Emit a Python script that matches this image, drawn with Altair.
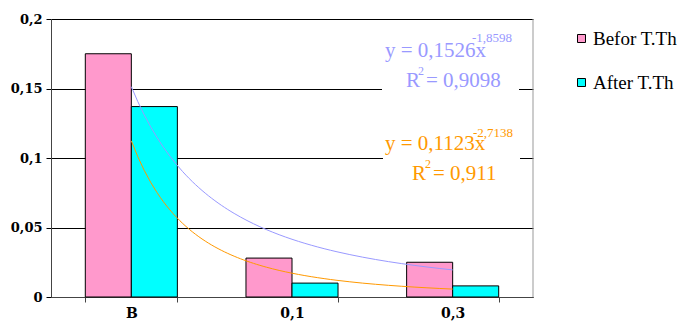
import altair as alt
import pandas as pd

categories = ["B", "0,1", "0,3"]
positions = [1, 2, 3]
series_names = ["Befor T.Th", "After T.Th"]
befor = [0.175, 0.028, 0.025]
after = [0.137, 0.010, 0.008]
y_ticks = [0, 0.05, 0.1, 0.15, 0.2]
eq_befor = ["y = 0,1526x", "-1,8598", "R", "2", "= 0,9098"]
eq_after = ["y = 0,1123x", "-2,7138", "R", "2", "= 0,911"]

rows = []
for c, p, b, a in zip(categories, positions, befor, after):
    rows.append({"cat": c, "pos": p, "series": series_names[0], "value": b})
    rows.append({"cat": c, "pos": p, "series": series_names[1], "value": a})
df = pd.DataFrame(rows)

FONT = "'Liberation Serif', 'Times New Roman', Times, serif"
BFONT = "'DejaVu Serif', serif"
W, H = 482, 278
LAV = "#9999FF"
ORA = "#FF9900"

yscale = alt.Scale(domain=[0, 0.2], nice=False, zero=True)

bars = alt.Chart(df).mark_bar(stroke="black", strokeWidth=1).encode(
    x=alt.X("cat:N", sort=categories, title=None,
            scale=alt.Scale(paddingInner=0.427, paddingOuter=0.2135),
            axis=alt.Axis(labelAngle=0, labelFont=BFONT, labelFontWeight="bold",
                          labelFontSize=14, labelColor="black", tickBand="extent",
                          tickColor="#444", domainColor="#444", tickSize=5,
                          labelBaseline="alphabetic", labelPadding=15, grid=False)),
    xOffset=alt.XOffset("series:N", sort=series_names,
                        scale=alt.Scale(paddingInner=0, paddingOuter=0)),
    y=alt.Y("value:Q", scale=yscale, title=None,
            axis=alt.Axis(values=y_ticks, labelExpr="replace(datum.value + '', '.', ',')",
                          grid=True, gridColor="black", gridWidth=1, gridOpacity=1,
                          labelFont=BFONT, labelFontWeight="bold", labelFontSize=13,
                          labelColor="black", tickColor="black", tickSize=5,
                          labelPadding=4, domainColor="#444")),
    color=alt.Color("series:N", sort=series_names,
                    scale=alt.Scale(domain=series_names, range=["#FF99CC", "#00FFFF"]),
                    legend=alt.Legend(title=None, orient="none", legendX=521, legendY=10,
                                      symbolType="square", symbolSize=64,
                                      symbolStrokeColor="black", symbolStrokeWidth=1,
                                      labelFont=FONT, labelFontSize=19, labelColor="black",
                                      rowPadding=24, labelOffset=2, padding=0)),
)

curves = alt.Chart(df).transform_regression(
    "pos", "value", method="pow", groupby=["series"]
).mark_line(strokeWidth=1).encode(
    x=alt.X("pos:Q", scale=alt.Scale(domain=[0.5, 3.5], nice=False, zero=False), axis=None),
    y=alt.Y("value:Q", scale=yscale),
    color=alt.Color("series:N", scale=alt.Scale(domain=series_names, range=[LAV, ORA]),
                    legend=None),
)


def box(x1, x2, y1, y2):
    return alt.Chart(pd.DataFrame({"t": [0]})).mark_rect(color="white").encode(
        x=alt.value(x1), x2=alt.value(x2), y=alt.value(y1), y2=alt.value(y2))


def label(text, x, y, size, color, align="left"):
    return alt.Chart(pd.DataFrame({"t": [text]})).mark_text(
        font=FONT, fontSize=size, color=color, align=align, baseline="middle"
    ).encode(text="t:N", x=alt.value(x), y=alt.value(y))


border = alt.Chart(pd.DataFrame({"t": [0]})).mark_rule(color="#999", strokeWidth=1).encode(
    x=alt.value(W), y=alt.value(0), y2=alt.value(H))

annots = [
    box(331, 468, 11, 77),
    box(332, 469, 106, 166),
    label(eq_befor[0], 334, 32, 21, LAV),
    label(eq_befor[1], 421, 19, 13, LAV),
    label(eq_befor[2], 355, 62, 21, LAV),
    label(eq_befor[3], 367, 52, 12, LAV),
    label(eq_befor[4], 375, 62, 21, LAV),
    label(eq_after[0], 334, 125, 21, ORA),
    label(eq_after[1], 422, 114, 13, ORA),
    label(eq_after[2], 361, 155, 21, ORA),
    label(eq_after[3], 374, 145, 12, ORA),
    label(eq_after[4], 382, 155, 21, ORA),
]

chart = alt.layer(bars, curves, border, *annots).resolve_scale(
    x="independent", color="independent"
).properties(
    width=W, height=H,
    autosize=alt.AutoSizeParams(type="none"),
    padding={"left": 43, "top": 11, "right": 145, "bottom": 25},
).configure_view(stroke=None)

chart.save("out.html", embed_options={"renderer": "svg", "actions": False})
